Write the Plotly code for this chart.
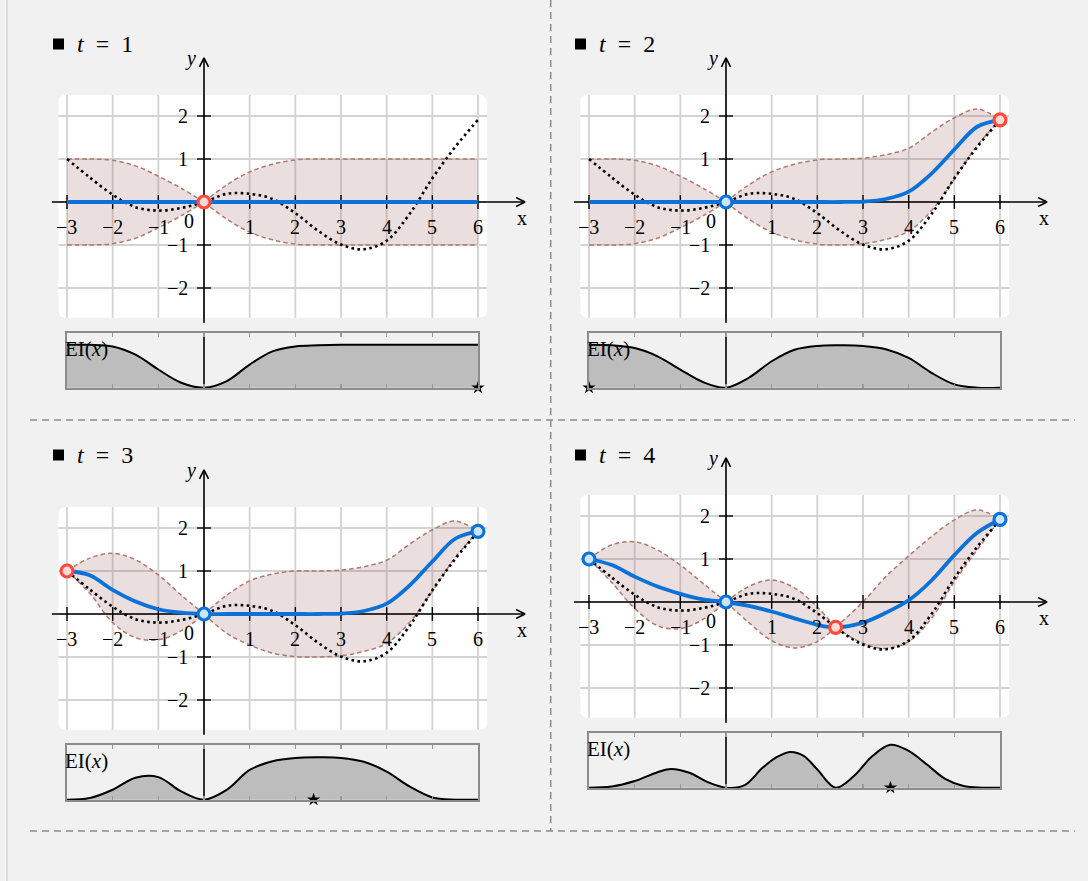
import plotly.graph_objects as go

# ---------------- data ----------------
x_grid = [-3, -2.5, -2, -1.5, -1, -0.5, 0, 0.5, 1, 1.5, 2, 2.5, 3, 3.5, 4, 4.5, 5, 5.5, 6]
x_grid_t4 = [-3, -2.5, -2, -1.5, -1, -0.5, 0, 0.5, 1, 1.5, 2, 2.4, 3, 3.5, 4, 4.5, 5, 5.5, 6]
ei_x_t4 = [-3, -2.5, -2, -1.5, -1.2, -0.8, -0.4, 0, 0.4, 0.8, 1.1, 1.4, 1.7, 2.0, 2.4,
           2.8, 3.2, 3.6, 4.0, 4.4, 4.8, 5.2, 5.6, 6]

true_f = [1.0, 0.57, 0.17, -0.12, -0.2, -0.14, 0.0, 0.19, 0.19, 0.07, -0.26, -0.67,
          -0.99, -1.1, -0.9, -0.28, 0.55, 1.28, 1.91]

mean_t1 = [0.0] * 19
upper_t1 = [1.0, 1.0, 0.97, 0.84, 0.6, 0.32, 0.0, 0.4, 0.7, 0.88, 0.98, 1.0, 1.0, 1.0, 1.0, 1.0, 1.0, 1.0, 1.0]
lower_t1 = [-1.0, -1.0, -0.97, -0.84, -0.6, -0.32, 0.0, -0.4, -0.7, -0.88, -0.98, -1.0, -1.0, -1.0, -1.0, -1.0, -1.0, -1.0, -1.0]

mean_t2 = [0, 0, 0, 0, 0, 0, 0, 0, 0, 0, 0, 0, 0.01, 0.07, 0.24, 0.66, 1.22, 1.75, 1.91]
upper_t2 = [1.0, 1.0, 0.97, 0.84, 0.6, 0.32, 0.0, 0.4, 0.7, 0.88, 0.98, 1.0, 1.02, 1.1, 1.25, 1.62, 1.96, 2.16, 1.91]
lower_t2 = [-1.0, -1.0, -0.97, -0.84, -0.6, -0.32, 0.0, -0.4, -0.7, -0.88, -0.98, -1.0, -0.97, -0.87, -0.68, -0.2, 0.53, 1.31, 1.91]

mean_t3 = [1.0, 0.9, 0.56, 0.29, 0.11, 0.03, 0.0, 0, 0, 0, 0, 0, 0.01, 0.07, 0.24, 0.66, 1.22, 1.75, 1.92]
upper_t3 = [1.0, 1.3, 1.41, 1.26, 0.91, 0.44, 0.0, 0.44, 0.77, 0.93, 1.0, 1.0, 1.02, 1.1, 1.25, 1.62, 1.96, 2.16, 1.92]
lower_t3 = [1.0, 0.48, -0.2, -0.55, -0.6, -0.39, 0.0, -0.45, -0.72, -0.91, -0.99, -1.0, -0.97, -0.87, -0.68, -0.2, 0.53, 1.31, 1.92]

mean_t4 = [1.0, 0.86, 0.59, 0.36, 0.19, 0.06, 0.0, -0.09, -0.22, -0.38, -0.53, -0.59, -0.48, -0.25, 0.04, 0.5, 1.09, 1.61, 1.92]
upper_t4 = [1.0, 1.33, 1.4, 1.21, 0.86, 0.43, 0.0, 0.36, 0.51, 0.33, -0.12, -0.59, 0.0, 0.59, 1.07, 1.52, 1.91, 2.14, 1.92]
lower_t4 = [1.0, 0.45, -0.15, -0.55, -0.62, -0.4, 0.0, -0.48, -0.9, -1.07, -0.92, -0.59, -0.96, -1.08, -0.92, -0.38, 0.47, 1.21, 1.92]

ei_t1 = [0.78, 0.78, 0.75, 0.6, 0.33, 0.09, 0.0, 0.12, 0.42, 0.66, 0.75, 0.77, 0.78, 0.78, 0.78, 0.78, 0.78, 0.78, 0.78]
ei_t2 = [0.78, 0.77, 0.72, 0.57, 0.33, 0.1, 0.0, 0.18, 0.48, 0.69, 0.76, 0.77, 0.76, 0.7, 0.54, 0.27, 0.06, 0.0, 0.0]
ei_t3 = [0.0, 0.03, 0.18, 0.4, 0.41, 0.15, 0.0, 0.18, 0.54, 0.7, 0.76, 0.77, 0.76, 0.69, 0.51, 0.24, 0.04, 0.0, 0.0]
ei_t4 = [0.0, 0.02, 0.12, 0.28, 0.34, 0.27, 0.1, 0.0, 0.04, 0.36, 0.55, 0.65, 0.58, 0.33, 0.0,
         0.21, 0.57, 0.78, 0.67, 0.42, 0.16, 0.03, 0.0, 0.0]

obs_x_t1, obs_y_t1 = [0], [0.0]
obs_x_t2, obs_y_t2 = [0, 6], [0.0, 1.91]
obs_x_t3, obs_y_t3 = [-3, 0, 6], [1.0, 0.0, 1.92]
obs_x_t4, obs_y_t4 = [-3, 0, 2.4, 6], [1.0, 0.0, -0.59, 1.92]
newest_obs = [0, 6, -3, 2.4]
ei_argmax = [6, -3, 2.4, 3.6]
steps = [1, 2, 3, 4]

x_ticks = [-3, -2, -1, 0, 1, 2, 3, 4, 5, 6]
y_ticks = [-2, -1, 0, 1, 2]

# ---------------- layout geometry ----------------
W, H = 1088, 881
SX, SY = 45.667, 43.0
origins = [(204, 202), (726, 202), (204, 614), (726, 602)]
title_pos = [(53, 44), (575, 44), (53, 455), (575, 455)]
XR = (-3.45, 7.25)
YR = (-2.95, 3.5)
RECT = (-3.19, 6.2, -2.69, 2.49)
AX_X = (-3.33, 7.03)
AX_Y = (-2.81, 3.35)
EI_TOP, EI_BOT = 130.7, 186.3

FONT = "Liberation Serif"
BLUE = "#0a72d8"
RED = "#ff4a3d"
GRID = "#d3d3d3"
BAND_LINE = "#ad7b70"
BAND_FILL = "rgba(150,90,90,0.2)"
BG = "#f1f1f1"

panels = [
    dict(xg=x_grid, mean=mean_t1, up=upper_t1, lo=lower_t1, ex=x_grid, ei=ei_t1, ox=obs_x_t1, oy=obs_y_t1),
    dict(xg=x_grid, mean=mean_t2, up=upper_t2, lo=lower_t2, ex=x_grid, ei=ei_t2, ox=obs_x_t2, oy=obs_y_t2),
    dict(xg=x_grid, mean=mean_t3, up=upper_t3, lo=lower_t3, ex=x_grid, ei=ei_t3, ox=obs_x_t3, oy=obs_y_t3),
    dict(xg=x_grid_t4, mean=mean_t4, up=upper_t4, lo=lower_t4, ex=ei_x_t4, ei=ei_t4, ox=obs_x_t4, oy=obs_y_t4),
]


def px(v):
    return v / W


def py(v):
    return 1 - v / H


def segments(xs, cuts):
    idx = [i for i, x in enumerate(xs) if x in cuts and 0 < i < len(xs) - 1]
    b = [0] + idx + [len(xs) - 1]
    return [(b[j], b[j + 1]) for j in range(len(b) - 1)]


def lab(v):
    return str(v).replace("-", "\u2212")


fig = go.Figure()
layout = dict(width=W, height=H, margin=dict(l=0, r=0, t=0, b=0), autosize=False,
              paper_bgcolor=BG, plot_bgcolor="rgba(0,0,0,0)", showlegend=False,
              hovermode=False, font=dict(family=FONT, color="black"))
shapes, annotations = [], []

for i, p in enumerate(panels):
    ox, oy = origins[i]
    mi, ei = 2 * i + 1, 2 * i + 2
    mx = "x" if mi == 1 else f"x{mi}"
    my = "y" if mi == 1 else f"y{mi}"
    exn, eyn = f"x{ei}", f"y{ei}"
    mkx = "xaxis" if mi == 1 else f"xaxis{mi}"
    mky = "yaxis" if mi == 1 else f"yaxis{mi}"

    layout[mkx] = dict(domain=[px(ox + XR[0] * SX), px(ox + XR[1] * SX)], range=list(XR),
                       visible=False, anchor=my, fixedrange=True)
    layout[mky] = dict(domain=[py(oy - YR[0] * SY), py(oy - YR[1] * SY)], range=list(YR),
                       visible=False, anchor=mx, fixedrange=True)
    layout[f"xaxis{ei}"] = dict(domain=[px(ox - 3 * SX), px(ox + 6 * SX)], range=[-3, 6],
                                showline=True, linecolor="#8c8c8c", linewidth=1.5, mirror="ticks",
                                ticks="inside", ticklen=4, tickwidth=1.2, tickcolor="#9a9a9a",
                                tickmode="array", tickvals=x_ticks, showticklabels=False,
                                showgrid=False, zeroline=False, anchor=eyn, fixedrange=True)
    layout[f"yaxis{ei}"] = dict(domain=[py(oy + EI_BOT), py(oy + EI_TOP)], range=[-0.012, 1.0],
                                showline=True, linecolor="#8c8c8c", linewidth=1.5, mirror=True,
                                ticks="", showticklabels=False, showgrid=False, zeroline=False,
                                anchor=exn, fixedrange=True)

    # white rounded plot background
    x0, x1, y0, y1 = RECT
    rx, ry = 8 / SX, 8 / SY
    path = (f"M{x0+rx},{y0} L{x1-rx},{y0} Q{x1},{y0} {x1},{y0+ry} L{x1},{y1-ry} "
            f"Q{x1},{y1} {x1-rx},{y1} L{x0+rx},{y1} Q{x0},{y1} {x0},{y1-ry} "
            f"L{x0},{y0+ry} Q{x0},{y0} {x0+rx},{y0} Z")
    shapes.append(dict(type="path", path=path, xref=mx, yref=my, fillcolor="white",
                       line=dict(width=0), layer="below"))

    # grid
    gx, gy = [], []
    for t in x_ticks:
        gx += [t, t, None]
        gy += [y0, y1, None]
    for t in y_ticks:
        gx += [x0, x1, None]
        gy += [t, t, None]
    fig.add_trace(go.Scatter(x=gx, y=gy, mode="lines", line=dict(color=GRID, width=1.8),
                             xaxis=mx, yaxis=my, hoverinfo="skip"))

    # confidence band, split at observations
    xs = p["xg"]
    for a, b in segments(xs, p["ox"]):
        sx_ = xs[a:b + 1]
        fig.add_trace(go.Scatter(x=sx_, y=p["lo"][a:b + 1], mode="lines",
                                 line=dict(color=BAND_LINE, width=1.5, dash="4.5px,3px", shape="spline"),
                                 xaxis=mx, yaxis=my, hoverinfo="skip"))
        fig.add_trace(go.Scatter(x=sx_, y=p["up"][a:b + 1], mode="lines", fill="tonexty",
                                 fillcolor=BAND_FILL,
                                 line=dict(color=BAND_LINE, width=1.5, dash="4.5px,3px", shape="spline"),
                                 xaxis=mx, yaxis=my, hoverinfo="skip"))

    # axes with arrows
    ah_l, ah_w = 9 / SX, 4.5 / SY
    fig.add_trace(go.Scatter(x=[AX_X[0], AX_X[1], None, AX_X[1] - ah_l, AX_X[1], AX_X[1] - ah_l],
                             y=[0, 0, None, ah_w, 0, -ah_w], mode="lines",
                             line=dict(color="black", width=1.6), xaxis=mx, yaxis=my, hoverinfo="skip"))
    ah_l2, ah_w2 = 9 / SY, 4.5 / SX
    fig.add_trace(go.Scatter(x=[0, 0, None, -ah_w2, 0, ah_w2],
                             y=[AX_Y[0], AX_Y[1], None, AX_Y[1] - ah_l2, AX_Y[1], AX_Y[1] - ah_l2],
                             mode="lines", line=dict(color="black", width=1.6),
                             xaxis=mx, yaxis=my, hoverinfo="skip"))
    xt = [t for t in x_ticks if t != 0]
    yt = [t for t in y_ticks if t != 0]
    fig.add_trace(go.Scatter(x=xt, y=[0] * len(xt), mode="markers", cliponaxis=False,
                             marker=dict(symbol="line-ns", size=10, line=dict(color="black", width=1.4)),
                             xaxis=mx, yaxis=my, hoverinfo="skip"))
    fig.add_trace(go.Scatter(x=[0] * len(yt), y=yt, mode="markers", cliponaxis=False,
                             marker=dict(symbol="line-ew", size=10, line=dict(color="black", width=1.4)),
                             xaxis=mx, yaxis=my, hoverinfo="skip"))

    # true function
    fig.add_trace(go.Scatter(x=x_grid, y=true_f, mode="lines",
                             line=dict(color="black", width=2.6, dash="2.6px,3.4px", shape="spline"),
                             xaxis=mx, yaxis=my, hoverinfo="skip"))
    # posterior mean
    fig.add_trace(go.Scatter(x=xs, y=p["mean"], mode="lines",
                             line=dict(color=BLUE, width=3.8, shape="spline"),
                             xaxis=mx, yaxis=my, hoverinfo="skip"))
    # observations
    cols = [RED if xo == newest_obs[i] else BLUE for xo in p["ox"]]
    fills = ["#ffd9d5" if xo == newest_obs[i] else "#cde5fa" for xo in p["ox"]]
    fig.add_trace(go.Scatter(x=p["ox"], y=p["oy"], mode="markers", cliponaxis=False,
                             marker=dict(size=12, color=fills, line=dict(color=cols, width=3.2)),
                             xaxis=mx, yaxis=my, hoverinfo="skip"))

    # tick labels
    for t in xt:
        annotations.append(dict(x=t, y=0, xref=mx, yref=my, text=lab(t), showarrow=False,
                                yshift=-24.5, font=dict(size=20)))
    for t in yt:
        annotations.append(dict(x=0, y=t, xref=mx, yref=my, text=lab(t), showarrow=False,
                                xanchor="right", xshift=-14, font=dict(size=20)))
    annotations.append(dict(x=0, y=0, xref=mx, yref=my, text="0", showarrow=False,
                            xshift=-14.5, yshift=-19, font=dict(size=20)))
    annotations.append(dict(x=AX_X[1], y=0, xref=mx, yref=my, text="x", showarrow=False,
                            xshift=-3, yshift=-16, font=dict(size=20)))
    annotations.append(dict(x=0, y=AX_Y[1], xref=mx, yref=my, text="<i>y</i>", showarrow=False,
                            xshift=-13, yshift=-1, font=dict(size=20)))

    # EI panel
    fig.add_trace(go.Scatter(x=p["ex"], y=p["ei"], mode="lines", fill="tozeroy", fillcolor="#bdbdbd",
                             line=dict(color="black", width=2, shape="spline"),
                             xaxis=exn, yaxis=eyn, hoverinfo="skip"))
    fig.add_trace(go.Scatter(x=[0, 0], y=[0, 1], mode="lines", line=dict(color="black", width=1.6),
                             xaxis=exn, yaxis=eyn, hoverinfo="skip"))
    fig.add_trace(go.Scatter(x=[ei_argmax[i]], y=[0], mode="markers", cliponaxis=False,
                             marker=dict(symbol="star", size=10, color="black"),
                             xaxis=exn, yaxis=eyn, hoverinfo="skip"))
    annotations.append(dict(x=px(ox - 3 * SX - 4), y=py(oy + 147), xref="paper", yref="paper",
                            xanchor="left", yanchor="middle", text="EI(<i>x</i>)", showarrow=False,
                            font=dict(size=21)))

    # title
    tx, ty = title_pos[i]
    shapes.append(dict(type="rect", xref="paper", yref="paper", x0=px(tx), x1=px(tx + 11),
                       y0=py(ty + 5.5), y1=py(ty - 5.5), fillcolor="black", line=dict(width=0)))
    annotations.append(dict(x=px(tx + 22), y=py(ty), xref="paper", yref="paper", xanchor="left",
                            yanchor="middle", showarrow=False,
                            text=f"<i>t</i>\u2002=\u2002{steps[i]}", font=dict(size=24)))

# frame: separators and left border
shapes.append(dict(type="line", xref="paper", yref="paper", x0=px(7), x1=px(7), y0=0, y1=1,
                   line=dict(color="#cfcfcf", width=1.2)))
shapes.append(dict(type="line", xref="paper", yref="paper", x0=px(550.7), x1=px(550.7),
                   y0=py(0), y1=py(831), line=dict(color="#8c8c8c", width=1.5, dash="7px,5px")))
for yy in (420, 831):
    shapes.append(dict(type="line", xref="paper", yref="paper", x0=px(30), x1=px(1075),
                       y0=py(yy), y1=py(yy), line=dict(color="#8c8c8c", width=1.5, dash="7px,5px")))

layout["shapes"] = shapes
layout["annotations"] = annotations
fig.update_layout(**layout)
fig.write_html("out.html", config={"displayModeBar": False, "staticPlot": True},
               post_script="document.documentElement.style.margin='0';"
                           "document.body.style.margin='0';document.body.style.overflow='hidden';"
                           "document.body.style.background='#f1f1f1';")
